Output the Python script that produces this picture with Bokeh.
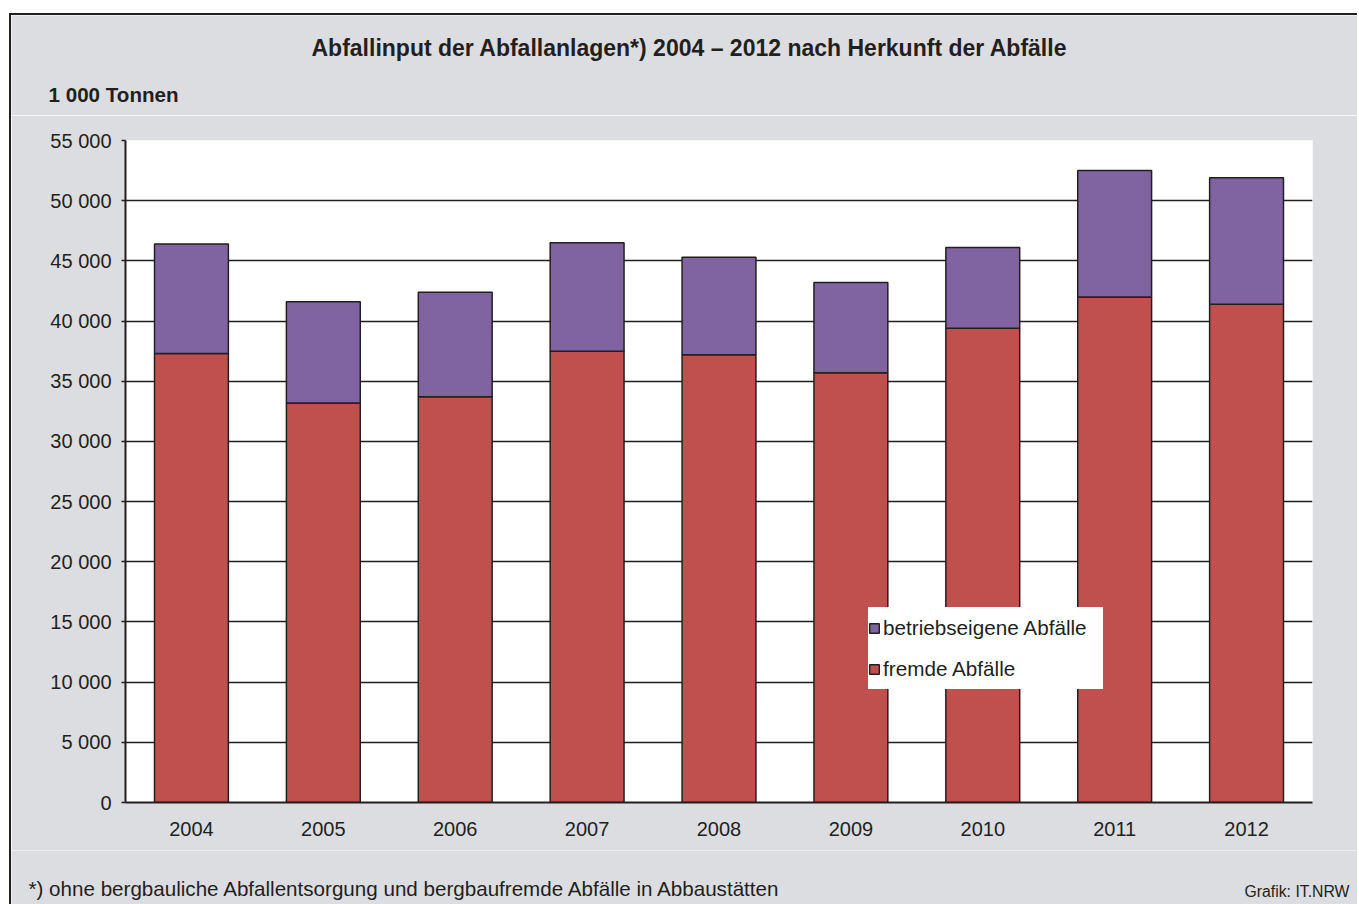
from bokeh.plotting import figure
from bokeh.models import (ColumnDataSource, FactorRange, Range1d, FixedTicker, Label,
                          Legend, LegendItem, Spacer)
from bokeh.layouts import column, row
from bokeh.embed import file_html
from bokeh.resources import INLINE

years = ["2004", "2005", "2006", "2007", "2008", "2009", "2010", "2011", "2012"]
fremde = [37300, 33200, 33700, 37500, 37200, 35700, 39400, 42000, 41400]
gesamt = [46400, 41600, 42400, 46500, 45300, 43200, 46100, 52500, 51900]
betriebseigene = [g - f for g, f in zip(gesamt, fremde)]
y_ticks = [0, 5000, 10000, 15000, 20000, 25000, 30000, 35000, 40000, 45000, 50000, 55000]
y_tick_labels = ["0", "5 000", "10 000", "15 000", "20 000", "25 000", "30 000",
                 "35 000", "40 000", "45 000", "50 000", "55 000"]
title_text = "Abfallinput der Abfallanlagen*) 2004 \u2013 2012 nach Herkunft der Abf\u00e4lle"
unit_text = "1 000 Tonnen"
foot_text = "*) ohne bergbauliche Abfallentsorgung und bergbaufremde Abf\u00e4lle in Abbaust\u00e4tten"
source_text = "Grafik: IT.NRW"
series_names = ["fremde Abf\u00e4lle", "betriebseigene Abf\u00e4lle"]

RED = "#c0504d"
PURPLE = "#8064a2"
DARK = "#231f20"
GRAY = "#dcdde0"
FONT = "Liberation Sans"
W = 1348


def text_panel(height, top_border=False):
    f = figure(width=W, height=height, x_range=Range1d(0, W), y_range=Range1d(0, height),
               output_backend="svg", toolbar_location=None,
               x_axis_location=None, y_axis_location=None,
               min_border=0, min_border_left=0, min_border_right=0,
               min_border_top=0, min_border_bottom=0)
    f.grid.visible = False
    f.border_fill_color = GRAY
    f.background_fill_color = GRAY
    f.outline_line_color = None
    st = {"border-left": "2px solid " + DARK}
    if top_border:
        st["border-top"] = "2px solid " + DARK
    f.styles = st
    return f


def add_label(f, x, y, text, size, bold=False, align="left"):
    f.add_layout(Label(x=x, y=y, x_units="screen", y_units="screen", text=text,
                       text_font=FONT, text_font_size=size, text_color=DARK,
                       text_font_style="bold" if bold else "normal",
                       text_align=align, text_baseline="middle"))


# header panel (title + unit)
p0 = text_panel(102, top_border=True)
add_label(p0, 300, 70, title_text, "23px", bold=True)
add_label(p0, 37, 23, unit_text, "20.6px", bold=True)

# main chart
src = ColumnDataSource(dict(years=years, fremde=fremde, betriebseigene=betriebseigene))
p = figure(width=W, height=735, x_range=FactorRange(*years), y_range=Range1d(0, 55000),
           output_backend="svg", toolbar_location=None,
           min_border_left=114, min_border_right=47, min_border_top=25, min_border_bottom=48)
p.border_fill_color = GRAY
p.background_fill_color = "white"
p.outline_line_color = None
p.styles = {"border-left": "2px solid " + DARK}

r = p.vbar_stack(["fremde", "betriebseigene"], x="years", width=0.56, source=src,
                 color=[RED, PURPLE], line_color=DARK, line_width=1.5)

p.yaxis.ticker = FixedTicker(ticks=y_ticks)
p.yaxis.major_label_overrides = {t: l for t, l in zip(y_ticks, y_tick_labels)}
p.yaxis.minor_tick_line_color = None
p.yaxis.major_tick_out = 4
p.yaxis.major_tick_in = 0
p.yaxis.major_tick_line_color = DARK
p.yaxis.major_tick_line_width = 1.5
p.yaxis.axis_line_color = DARK
p.yaxis.axis_line_width = 2
p.yaxis.major_label_standoff = 10
for ax in (p.xaxis, p.yaxis):
    ax.major_label_text_font = FONT
    ax.major_label_text_font_size = "20px"
    ax.major_label_text_color = DARK
p.xaxis.major_tick_line_color = None
p.xaxis.axis_line_color = DARK
p.xaxis.axis_line_width = 2
p.xaxis.major_label_standoff = 13
p.xgrid.grid_line_color = None
p.ygrid.grid_line_color = DARK
p.ygrid.grid_line_width = 1.3
p.ygrid.ticker = FixedTicker(ticks=y_ticks)

legend = Legend(items=[LegendItem(label=series_names[1], renderers=[r[1]]),
                       LegendItem(label=series_names[0], renderers=[r[0]])],
                location=(743, 113), orientation="vertical")
legend.background_fill_color = "white"
legend.background_fill_alpha = 1
legend.border_line_color = None
legend.label_text_font = FONT
legend.label_text_font_size = "20.7px"
legend.label_text_color = DARK
legend.glyph_width = 12
legend.glyph_height = 12
legend.label_standoff = 3
legend.padding = 8
legend.spacing = 0
legend.margin = 0
legend.label_height = 41
legend.label_width = 220
p.add_layout(legend, "center")

# footer panel
p2 = text_panel(54)
add_label(p2, 17, 16, foot_text, "20.6px")
add_label(p2, 1338, 13, source_text, "15.8px", align="right")

layout = column(Spacer(height=13),
                row(Spacer(width=9), p0),
                row(Spacer(width=9), p),
                row(Spacer(width=9), p2))
open("out.html", "w").write(file_html(layout, INLINE))
